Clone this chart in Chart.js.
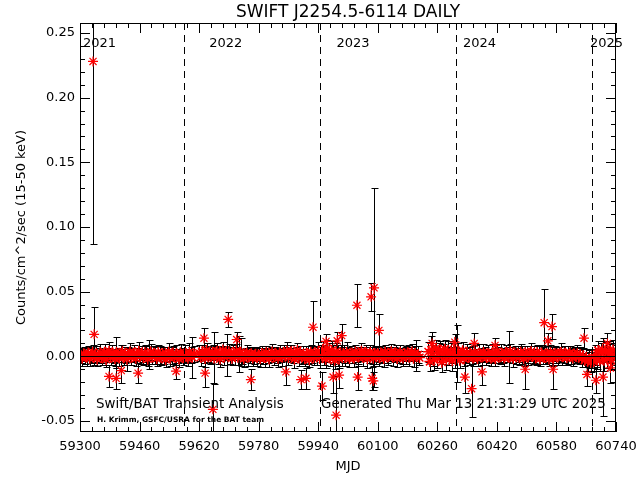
<!DOCTYPE html>
<html>
<head>
<meta charset="utf-8">
<script src="https://cdn.jsdelivr.net/npm/chart.js@4"></script>
<style>
  body { margin: 0; background: #fff; }
  canvas { display: block; }
</style>
</head>
<body>
<canvas id="lc" width="640" height="480"></canvas>
<script>
// daily light curve, quiescent band (three stretches between observing gaps)
var bandMjd = [
  59302,59306,59310,59314,59318,59322,59326,59330,59334,59338,
  59342,59346,59350,59354,59358,59362,59366,59370,59374,59378,
  59382,59386,59390,59394,59398,59402,59406,59410,59414,59418,
  59422,59426,59430,59434,59438,59442,59446,59450,59454,59458,
  59462,59466,59470,59474,59478,59482,59486,59490,59494,59498,
  59502,59506,59510,59514,59518,59522,59526,59530,59534,59538,
  59542,59546,59550,59554,59558,59562,59566,59570,59574,59578,
  59582,59586,59590,59594,59598,59602,59606,
  59620,59624,59628,59632,59636,59640,59644,59648,59652,59656,
  59660,59664,59668,59672,59676,59680,59684,59688,59692,59696,
  59700,59704,59708,59712,59716,59720,59724,59728,59732,59736,
  59740,59744,59748,59752,59756,59760,59764,59768,59772,59776,
  59780,59784,59788,59792,59796,59800,59804,59808,59812,59816,
  59820,59824,59828,59832,59836,59840,59844,59848,59852,59856,
  59860,59864,59868,59872,59876,59880,59884,59888,59892,59896,
  59900,59904,59908,59912,59916,59920,59924,59928,59932,59936,
  59940,59944,59948,59952,59956,59960,59964,59968,59972,59976,
  59980,59984,59988,59992,59996,60000,60004,60008,60012,60016,
  60020,60024,60028,60032,60036,60040,60044,60048,60052,60056,
  60060,60064,60068,60072,60076,60080,60084,60088,60092,60096,
  60100,60104,60108,60112,60116,60120,60124,60128,60132,60136,
  60140,60144,60148,60152,60156,60160,60164,60168,60172,60176,
  60180,60184,60188,60192,60196,60200,60204,60208,60212,
  60236,60240,60244,60248,60252,60256,60260,60264,60268,60272,
  60276,60280,60284,60288,60292,60296,60300,60304,60308,60312,
  60316,60320,60324,60328,60332,60336,60340,60344,60348,60352,
  60356,60360,60364,60368,60372,60376,60380,60384,60388,60392,
  60396,60400,60404,60408,60412,60416,60420,60424,60428,60432,
  60436,60440,60444,60448,60452,60456,60460,60464,60468,60472,
  60476,60480,60484,60488,60492,60496,60500,60504,60508,60512,
  60516,60520,60524,60528,60532,60536,60540,60544,60548,60552,
  60556,60560,60564,60568,60572,60576,60580,60584,60588,60592,
  60596,60600,60604,60608,60612,60616,60620,60624,60628,60632,
  60636,60640,60644,60648,60652,60656,60660,60664,60668,60672,
  60676,60680,60684,60688,60692,60696,60700,60704,60708,60712,
  60716,60720,60724,60728,60732,60736
];
var bandRate = [
  0.0008,-0.0012,0.0020,0.0003,-0.0006,0.0025,-0.0015,0.0010,0.0030,-0.0004,
  0.0015,-0.0020,0.0006,0.0028,-0.0010,0.0002,0.0032,-0.0024,0.0012,0.0040,
  -0.0008,0.0020,0.0004,-0.0018,0.0030,0.0008,-0.0012,0.0022,0.0035,-0.0004,
  0.0010,-0.0022,0.0016,0.0033,-0.0006,0.0012,0.0026,-0.0015,0.0006,0.0038,
  0.0000,0.0018,-0.0010,0.0028,0.0008,-0.0020,0.0014,0.0034,-0.0004,0.0022,
  0.0006,-0.0016,0.0030,0.0010,-0.0008,0.0020,0.0004,-0.0024,0.0015,0.0032,
  -0.0012,0.0008,0.0025,-0.0006,0.0018,0.0002,-0.0020,0.0028,0.0010,-0.0010,
  0.0022,0.0005,-0.0015,0.0030,0.0012,-0.0008,0.0018,
  0.0025,-0.0008,0.0035,0.0012,-0.0016,0.0045,0.0020,0.0006,0.0000,0.0030,
  -0.0012,0.0028,0.0040,0.0008,-0.0020,0.0016,0.0048,-0.0004,0.0024,0.0010,
  0.0036,0.0008,-0.0014,0.0028,0.0004,0.0042,-0.0008,0.0018,0.0032,0.0000,
  -0.0018,0.0012,0.0024,-0.0006,0.0010,0.0020,-0.0012,0.0004,0.0016,-0.0008,
  0.0008,-0.0016,0.0022,0.0002,-0.0010,0.0028,0.0006,-0.0020,0.0014,0.0034,
  -0.0004,0.0018,0.0008,-0.0014,0.0026,0.0012,-0.0006,0.0030,0.0016,0.0040,
  -0.0010,0.0024,0.0036,0.0006,-0.0022,0.0020,0.0046,-0.0012,0.0028,0.0000,
  0.0014,-0.0018,0.0022,0.0008,-0.0026,0.0032,0.0012,-0.0008,0.0024,0.0004,
  0.0040,-0.0016,0.0020,0.0050,0.0010,-0.0022,0.0060,0.0030,-0.0012,0.0045,
  0.0016,-0.0030,0.0036,0.0008,-0.0020,0.0026,0.0000,0.0018,-0.0010,0.0030,
  0.0012,-0.0016,0.0024,0.0006,-0.0012,0.0034,0.0014,-0.0006,0.0020,0.0040,
  -0.0008,0.0016,0.0028,-0.0018,0.0010,0.0030,0.0004,-0.0014,0.0022,0.0008,
  0.0020,-0.0010,0.0026,0.0006,-0.0016,0.0032,0.0012,-0.0004,0.0018,0.0036,
  -0.0006,0.0014,0.0026,-0.0016,0.0008,0.0030,0.0002,-0.0012,0.0020,0.0010,
  0.0028,-0.0008,0.0016,0.0034,-0.0014,0.0022,0.0006,0.0012,-0.0010,
  0.0035,-0.0040,0.0050,0.0008,-0.0028,0.0060,-0.0012,0.0030,0.0048,-0.0045,
  0.0018,0.0055,-0.0022,0.0040,0.0000,0.0026,-0.0035,0.0050,-0.0008,0.0022,
  0.0036,-0.0030,0.0012,0.0044,-0.0018,0.0006,0.0030,-0.0010,0.0020,0.0008,
  -0.0012,0.0026,0.0004,-0.0016,0.0024,0.0010,-0.0006,0.0030,0.0015,-0.0010,
  0.0020,0.0004,-0.0015,0.0028,0.0008,-0.0018,0.0034,0.0012,-0.0004,0.0024,
  0.0006,-0.0012,0.0030,0.0016,-0.0008,0.0038,0.0010,-0.0016,0.0026,0.0004,
  0.0018,-0.0010,0.0032,0.0008,-0.0015,0.0027,0.0012,-0.0006,0.0024,0.0036,
  0.0000,0.0016,-0.0012,0.0030,0.0008,-0.0018,0.0025,0.0004,-0.0008,0.0020,
  0.0012,-0.0020,0.0028,0.0006,-0.0014,0.0022,0.0010,-0.0006,0.0018,0.0030,
  -0.0004,0.0014,0.0024,-0.0010,0.0008,0.0026,0.0002,-0.0012,0.0018,0.0006,
  0.0020,-0.0008,0.0012,-0.0016,0.0004,-0.0030,-0.0012,-0.0038,-0.0022,-0.0045,
  -0.0015,-0.0040,0.0010,-0.0025,0.0045,-0.0035,0.0030,0.0050,-0.0030,0.0035,
  -0.0018,0.0042,0.0020,-0.0032,0.0048,0.0010
];
var bandErr = [
  0.006,0.0065,0.0055,0.006,0.007,0.0055,0.006,0.0065,0.0055,0.006,
  0.0065,0.0055,0.006,0.007,0.006,0.0055,0.0065,0.006,0.0055,0.007,
  0.006,0.0065,0.0055,0.006,0.012,0.0055,0.006,0.0065,0.0055,0.006,
  0.0065,0.009,0.006,0.007,0.006,0.0055,0.0065,0.006,0.0055,0.007,
  0.006,0.0065,0.0055,0.006,0.007,0.0055,0.011,0.0065,0.0055,0.006,
  0.0065,0.0055,0.006,0.007,0.006,0.0055,0.0065,0.006,0.0055,0.007,
  0.006,0.0065,0.0055,0.006,0.007,0.0055,0.006,0.0065,0.0055,0.006,
  0.0065,0.0055,0.006,0.007,0.006,0.016,0.0065,
  0.006,0.0065,0.0055,0.006,0.007,0.0055,0.006,0.0065,0.0055,0.006,
  0.020,0.0055,0.006,0.007,0.006,0.0055,0.0065,0.006,0.0055,0.016,
  0.006,0.0065,0.0055,0.006,0.007,0.0055,0.006,0.014,0.011,0.006,
  0.0065,0.0055,0.006,0.007,0.006,0.0055,0.0065,0.006,0.0055,0.007,
  0.006,0.0065,0.0055,0.006,0.007,0.0055,0.006,0.0065,0.0055,0.006,
  0.0065,0.0055,0.006,0.007,0.006,0.0055,0.0065,0.006,0.0055,0.007,
  0.006,0.0065,0.0055,0.006,0.007,0.0055,0.006,0.0065,0.0055,0.006,
  0.0065,0.0055,0.006,0.007,0.006,0.0055,0.0065,0.006,0.0055,0.007,
  0.007,0.0075,0.0065,0.007,0.008,0.0065,0.007,0.0075,0.0065,0.007,
  0.0075,0.0065,0.007,0.008,0.007,0.0065,0.0075,0.007,0.0065,0.008,
  0.006,0.0065,0.0055,0.006,0.007,0.0055,0.006,0.0065,0.0055,0.006,
  0.0065,0.0055,0.006,0.007,0.006,0.0055,0.0065,0.006,0.0055,0.007,
  0.006,0.0065,0.0055,0.006,0.007,0.0055,0.006,0.0065,0.0055,0.006,
  0.0065,0.0055,0.006,0.007,0.006,0.0055,0.0065,0.006,0.0055,0.007,
  0.006,0.0065,0.0055,0.006,0.007,0.0055,0.012,0.0065,0.0055,
  0.0075,0.007,0.011,0.008,0.0075,0.007,0.008,0.0075,0.007,0.008,
  0.0075,0.007,0.008,0.0075,0.007,0.008,0.0075,0.007,0.008,0.022,
  0.0065,0.006,0.0055,0.0065,0.006,0.0055,0.0065,0.006,0.0055,0.007,
  0.006,0.0065,0.0055,0.006,0.007,0.0055,0.006,0.0065,0.0055,0.006,
  0.0065,0.0055,0.006,0.007,0.006,0.0055,0.0065,0.006,0.0055,0.007,
  0.006,0.0065,0.0055,0.006,0.020,0.0055,0.006,0.0065,0.0055,0.006,
  0.0065,0.0055,0.006,0.007,0.006,0.0055,0.0065,0.006,0.0055,0.007,
  0.006,0.0065,0.0055,0.006,0.007,0.0055,0.006,0.0065,0.0055,0.006,
  0.0065,0.0055,0.006,0.007,0.006,0.0055,0.0065,0.006,0.0055,0.007,
  0.006,0.0065,0.0055,0.006,0.007,0.0055,0.006,0.0065,0.0055,0.006,
  0.0065,0.0055,0.006,0.007,0.006,0.0055,0.007,0.0075,0.007,0.008,
  0.0075,0.007,0.008,0.0075,0.007,0.008,0.0075,0.007,0.008,0.0075,
  0.007,0.008,0.0075,0.007,0.008,0.0075
];

// days that stand out of the band
var spikeMjd  = [59335, 59338, 59378, 59397, 59411, 59456, 59558, 59633, 59636, 59657,
                 59698, 59721, 59759, 59853, 59894, 59907, 59926, 59950, 59961, 59980,
                 59988, 59991, 59996, 60003, 60044, 60046, 60082, 60085, 60088, 60090,
                 60103, 60246, 60307, 60334, 60352, 60359, 60380, 60415, 60496, 60547,
                 60557, 60568, 60571, 60654, 60662, 60686, 60705, 60717, 60725];
var spikeRate = [0.228, 0.017, -0.0155, -0.017, -0.011, -0.013, -0.0115, 0.014, -0.013, -0.041,
                 0.0285, 0.013, -0.018, -0.012, -0.018, -0.017, 0.0225, -0.023, 0.0115, -0.016,
                 -0.0455, 0.012, -0.0145, 0.016, 0.0395, -0.016, 0.046, -0.017, -0.019, 0.053,
                 0.020, 0.010, 0.011, -0.016, -0.025, 0.010, -0.012, 0.0085, -0.010, 0.026,
                 0.012, 0.023, -0.010, 0.014, -0.014, -0.0185, -0.016, 0.010, -0.009];
var spikeErr  = [0.141, 0.021, 0.0085, 0.008, 0.010, 0.008, 0.006, 0.008, 0.011, 0.020,
                 0.0055, 0.006, 0.008, 0.010, 0.0075, 0.008, 0.020, 0.011, 0.006, 0.012,
                 0.030, 0.007, 0.010, 0.009, 0.0165, 0.010, 0.011, 0.009, 0.007, 0.077,
                 0.013, 0.009, 0.006, 0.012, 0.022, 0.008, 0.010, 0.006, 0.015, 0.026,
                 0.006, 0.0095, 0.015, 0.008, 0.009, 0.010, 0.030, 0.008, 0.012];

var xTicks = [59300, 59460, 59620, 59780, 59940, 60100, 60260, 60420, 60580, 60740];
var yTicks = [-0.05, 0.00, 0.05, 0.10, 0.15, 0.20, 0.25];

// Jan 1 of each year, and where the year names are written
var yearMjd = [59580, 59945, 60310, 60676];
var yearNames = ['2021', '2022', '2023', '2024', '2025'];
var yearLabelMjd = [59308, 59647, 59989, 60329, 60670];

function points(xs, ys) {
  return xs.map(function(m, i) { return { x: m, y: ys[i] }; });
}

var FONT = '"DejaVu Sans", sans-serif';

var decor = {
  id: 'decor',
  beforeDatasetsDraw: function(chart) {
    // error bars under the stars
    var ctx = chart.ctx, a = chart.chartArea;
    var xs = chart.scales.x, ys = chart.scales.y;
    ctx.save();
    ctx.beginPath();
    ctx.rect(a.left, a.top, a.right - a.left, a.bottom - a.top);
    ctx.clip();
    ctx.strokeStyle = '#000';
    ctx.lineWidth = 1;
    ctx.beginPath();
    chart.data.datasets.forEach(function(ds) {
      ds.data.forEach(function(p, i) {
        var e = ds.errors[i];
        var px = Math.round(xs.getPixelForValue(p.x)) + 0.5;
        var lo = Math.round(ys.getPixelForValue(p.y - e)) + 0.5;
        var hi = Math.round(ys.getPixelForValue(p.y + e)) + 0.5;
        ctx.moveTo(px, lo); ctx.lineTo(px, hi);
        ctx.moveTo(px - 3, lo); ctx.lineTo(px + 4, lo);
        ctx.moveTo(px - 3, hi); ctx.lineTo(px + 4, hi);
      });
    });
    ctx.stroke();
    ctx.restore();
  },
  afterDatasetsDraw: function(chart) {
    var ctx = chart.ctx, a = chart.chartArea;
    var xs = chart.scales.x, ys = chart.scales.y;
    ctx.save();
    ctx.strokeStyle = '#000';
    ctx.lineWidth = 1;
    var y0 = Math.round(ys.getPixelForValue(0)) + 0.5;
    ctx.beginPath();
    ctx.moveTo(a.left, y0); ctx.lineTo(a.right, y0);
    ctx.stroke();
    ctx.setLineDash([7, 5]);
    yearMjd.forEach(function(m) {
      var px = Math.round(xs.getPixelForValue(m)) + 0.5;
      ctx.beginPath();
      ctx.moveTo(px, a.top); ctx.lineTo(px, a.bottom);
      ctx.stroke();
    });
    ctx.restore();
  },
  afterDraw: function(chart) {
    var ctx = chart.ctx, a = chart.chartArea;
    var xs = chart.scales.x, ys = chart.scales.y;
    ctx.save();
    ctx.strokeStyle = '#000';
    ctx.lineWidth = 1;
    ctx.strokeRect(a.left + 0.5, a.top + 0.5, a.right - a.left - 1, a.bottom - a.top - 1);
    // inward ticks on all four sides
    ctx.beginPath();
    for (var v = xTicks[0]; v <= xTicks[xTicks.length - 1]; v += 32) {
      var len = ((v - xTicks[0]) % 160 === 0) ? 10 : 5;
      var px = Math.round(xs.getPixelForValue(v)) + 0.5;
      ctx.moveTo(px, a.bottom); ctx.lineTo(px, a.bottom - len);
      ctx.moveTo(px, a.top); ctx.lineTo(px, a.top + len);
    }
    for (var k = -5; k <= 25; k++) {
      var ylen = (k % 5 === 0) ? 10 : 5;
      var py = Math.round(ys.getPixelForValue(k / 100)) + 0.5;
      ctx.moveTo(a.left, py); ctx.lineTo(a.left + ylen, py);
      ctx.moveTo(a.right, py); ctx.lineTo(a.right - ylen, py);
    }
    ctx.stroke();

    ctx.fillStyle = '#000';
    ctx.textBaseline = 'middle';
    ctx.textAlign = 'center';
    ctx.font = '17px ' + FONT;
    ctx.fillText('SWIFT J2254.5-6114 DAILY', (a.left + a.right) / 2, 13);
    ctx.textAlign = 'left';
    ctx.font = '13px ' + FONT;
    yearNames.forEach(function(t, i) {
      ctx.fillText(t, xs.getPixelForValue(yearLabelMjd[i]), 44);
    });
    ctx.textBaseline = 'alphabetic';
    ctx.font = '13.4px ' + FONT;
    ctx.fillText('Swift/BAT Transient Analysis', 96, 408);
    ctx.fillText('Generated Thu Mar 13 21:31:29 UTC 2025', 321, 408);
    ctx.font = 'bold 7.5px ' + FONT;
    ctx.fillText('H. Krimm, GSFC/USRA for the BAT team', 97, 422);
    ctx.restore();
  }
};

new Chart(document.getElementById('lc'), {
  type: 'scatter',
  data: {
    datasets: [
      {
        data: points(bandMjd, bandRate),
        errors: bandErr,
        pointStyle: 'star', pointRadius: 5.5, pointBorderWidth: 1.5,
        borderColor: '#ff0000', backgroundColor: '#ff0000'
      },
      {
        data: points(spikeMjd, spikeRate),
        errors: spikeErr,
        pointStyle: 'star', pointRadius: 5, pointBorderWidth: 1.2,
        borderColor: '#ff0000', backgroundColor: '#ff0000'
      }
    ]
  },
  options: {
    responsive: false,
    animation: false,
    layout: { padding: { left: 0, right: 24, top: 23, bottom: 0 } },
    plugins: {
      legend: { display: false },
      tooltip: { enabled: false },
      title: { display: false }
    },
    scales: {
      x: {
        type: 'linear',
        min: 59300, max: 60740,
        afterBuildTicks: function(s) { s.ticks = xTicks.map(function(v) { return { value: v }; }); },
        afterFit: function(s) { s.height = 48; s.paddingLeft = 0; s.paddingRight = 0; },
        grid: { display: false, drawTicks: false, tickLength: 0 },
        border: { display: false },
        ticks: {
          color: '#000', padding: 7, maxRotation: 0, autoSkip: false,
          font: { family: FONT, size: 13 },
          callback: function(v) { return String(v); }
        },
        title: {
          display: true, text: 'MJD', color: '#000',
          font: { family: FONT, size: 13 },
          padding: { top: 0, bottom: 6 }
        }
      },
      y: {
        min: -0.0585, max: 0.2577,
        afterBuildTicks: function(s) { s.ticks = yTicks.map(function(v) { return { value: v }; }); },
        afterFit: function(s) { s.width = 80; s.paddingTop = 0; s.paddingBottom = 0; },
        grid: { display: false, drawTicks: false, tickLength: 0 },
        border: { display: false },
        ticks: {
          color: '#000', padding: 5, autoSkip: false,
          font: { family: FONT, size: 13 },
          callback: function(v) { return v.toFixed(2); }
        },
        title: {
          display: true, text: 'Counts/cm^2/sec (15-50 keV)', color: '#000',
          font: { family: FONT, size: 13 },
          padding: { top: 14, bottom: 0 }
        }
      }
    }
  },
  plugins: [decor]
});
</script>
</body>
</html>
